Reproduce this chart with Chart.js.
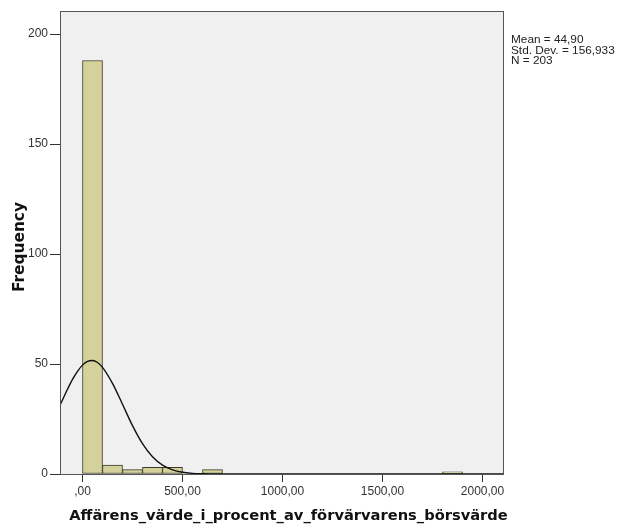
<!DOCTYPE html>
<html>
<head>
<meta charset="utf-8">
<script src="https://cdn.jsdelivr.net/npm/chart.js@4"></script>
<style>
  html, body { margin: 0; padding: 0; background: #fff; }
  #wrap { width: 618px; height: 526px; }
</style>
</head>
<body>
<div id="wrap"><canvas id="hist" width="618" height="526"></canvas></div>
<script>
// Histogramdata (bin = 100 enheter, startvärde per bin)
const binStarts = [0, 100, 200, 300, 400, 500, 600, 700, 800, 900, 1000, 1100, 1200, 1300, 1400, 1500, 1600, 1700, 1800];
const counts    = [188, 4, 2, 3, 3, 0, 2, 0, 0, 0, 0, 0, 0, 0, 0, 0, 0, 0, 1];

// Normalkurvan
const curveX = [-110, -75, -50, -25, 0, 25, 50, 75, 100, 150, 200, 250, 300, 350, 400, 450, 500, 550, 600, 700, 800, 2110];
const curveY = [31.7, 38.5, 43.0, 46.7, 49.5, 51.2, 51.6, 50.7, 48.5, 41.2, 31.7, 22.0, 13.8, 7.8, 4.0, 1.85, 0.77, 0.29, 0.1, 0.01, 0, 0];

const xTicks = [0, 500, 1000, 1500, 2000];
const xTickLabels = [',00', '500,00', '1000,00', '1500,00', '2000,00'];
const yTicks = [0, 50, 100, 150, 200];
const statsLines = ['Mean = 44,90', 'Std. Dev. = 156,933', 'N = 203'];

const binWidth = 100;

// skriver en text så att den blir en viss bredd
function fitText(ctx, text, family, width, maxSize) {
  let size = maxSize;
  ctx.font = 'bold ' + size + 'px ' + family;
  const w = ctx.measureText(text).width;
  size = Math.min(maxSize, size * width / w);
  ctx.font = 'bold ' + size.toFixed(2) + 'px ' + family;
}

// Bakgrund + ram runt plotytan + texter
const spssFrame = {
  id: 'spssFrame',
  beforeDraw(chart) {
    const { ctx, chartArea: a } = chart;
    ctx.save();
    ctx.fillStyle = '#ffffff';
    ctx.fillRect(0, 0, chart.width, chart.height);
    ctx.fillStyle = '#f0f0f0';
    ctx.fillRect(a.left, a.top, a.right - a.left, a.bottom - a.top);
    ctx.restore();
  },
  afterDraw(chart) {
    const { ctx, chartArea: a } = chart;
    ctx.save();
    ctx.strokeStyle = '#555';
    ctx.lineWidth = 1;
    ctx.strokeRect(a.left + 0.5, a.top + 0.5, a.right - a.left - 1, a.bottom - a.top);

    // statistik
    ctx.fillStyle = '#222';
    ctx.font = '11.8px Arial, "Liberation Sans", sans-serif';
    ctx.textBaseline = 'middle';
    ctx.textAlign = 'left';
    statsLines.forEach((t, i) => ctx.fillText(t, 511, 40 + i * 10.5));

    // axeltitlar
    const fam = '"DejaVu Sans", Verdana, sans-serif';
    ctx.fillStyle = '#111';
    ctx.textAlign = 'center';
    ctx.textBaseline = 'alphabetic';
    fitText(ctx, 'Affärens_värde_i_procent_av_förvärvarens_börsvärde', fam, 439, 18);
    ctx.fillText('Affärens_värde_i_procent_av_förvärvarens_börsvärde', 288.5, 519.5);
    ctx.translate(24, 247);
    ctx.rotate(-Math.PI / 2);
    fitText(ctx, 'Frequency', fam, 90, 18);
    ctx.fillText('Frequency', 0, 0);
    ctx.restore();
  }
};

const barData = binStarts.map((b, i) => ({ x: b + binWidth / 2, y: counts[i] > 0 ? counts[i] : null }));
const curveData = curveX.map((x, i) => ({ x: x, y: curveY[i] }));

new Chart(document.getElementById('hist'), {
  type: 'bar',
  data: {
    datasets: [
      {
        type: 'line',
        data: curveData,
        borderColor: '#111',
        borderWidth: 1.4,
        pointRadius: 0,
        fill: false,
        cubicInterpolationMode: 'monotone',
        order: 0
      },
      {
        type: 'bar',
        data: barData,
        backgroundColor: '#d5d19b',
        borderColor: '#3a3a2a',
        borderWidth: 1,
        borderSkipped: false,
        barPercentage: 1,
        categoryPercentage: 1,
        order: 1
      }
    ]
  },
  options: {
    responsive: false,
    animation: false,
    layout: { padding: { top: 11, right: 114, left: 0, bottom: 0 } },
    plugins: {
      legend: { display: false },
      tooltip: { enabled: false },
      title: { display: false }
    },
    scales: {
      x: {
        type: 'linear',
        min: -112.5,
        max: 2107.5,
        offset: false,
        afterBuildTicks: s => { s.ticks = xTicks.map(v => ({ value: v })); },
        afterFit: s => { s.height = 52; },
        grid: { offset: false, drawOnChartArea: false, drawTicks: true, tickLength: 8, tickColor: '#333' },
        border: { display: false },
        ticks: {
          color: '#333',
          font: { size: 12, family: 'Arial, "Liberation Sans", sans-serif' },
          padding: 2,
          maxRotation: 0,
          callback: (v) => xTickLabels[xTicks.indexOf(v)]
        }
      },
      y: {
        min: 0,
        max: 210.5,
        afterBuildTicks: s => { s.ticks = yTicks.map(v => ({ value: v })); },
        afterFit: s => { s.width = 60; },
        grid: { drawOnChartArea: false, drawTicks: true, tickLength: 10, tickColor: '#333' },
        border: { display: false },
        ticks: {
          color: '#333',
          font: { size: 12, family: 'Arial, "Liberation Sans", sans-serif' },
          padding: 2
        }
      }
    }
  },
  plugins: [spssFrame]
});
</script>
</body>
</html>
